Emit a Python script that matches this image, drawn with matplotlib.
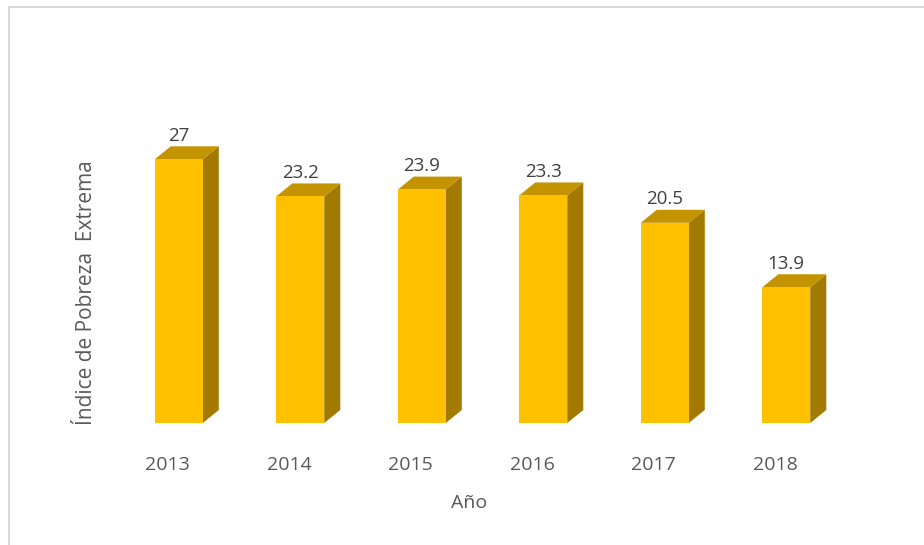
import matplotlib
matplotlib.use("Agg")
import matplotlib.pyplot as plt
from matplotlib.patches import Polygon
from matplotlib.lines import Line2D
from matplotlib.transforms import ScaledTranslation

years = ["2013", "2014", "2015", "2016", "2017", "2018"]
values = [27, 23.2, 23.9, 23.3, 20.5, 13.9]
value_labels = ["27", "23.2", "23.9", "23.3", "20.5", "13.9"]

plt.rcParams['font.family'] = ['Open Sans', 'DejaVu Sans']

W, H = 924, 545
fig = plt.figure(figsize=(W / 100, H / 100), dpi=100)
ax = fig.add_axes([118 / W, 122 / H, 729 / W, 293 / H])

front = '#FFC000'
side = '#A27A00'
top = '#C39300'
bw = 0.395
dx = 0.132   # depth offset in x units
dy = 1.33    # depth offset in y units

xs = list(range(len(years)))
ax.bar(xs, values, width=bw, color=front, zorder=3)
for x, v, lab in zip(xs, values, value_labels):
    x0, x1 = x - bw / 2, x + bw / 2
    ax.add_patch(Polygon([(x1, 0), (x1 + dx, dy), (x1 + dx, v + dy), (x1, v)],
                         closed=True, facecolor=side, edgecolor='none', zorder=2))
    ax.add_patch(Polygon([(x0, v), (x1, v), (x1 + dx, v + dy), (x0 + dx, v + dy)],
                         closed=True, facecolor=top, edgecolor='none', zorder=2))
    ax.annotate(lab, (x, v + dy), xytext=(0, 1), textcoords='offset points',
                ha='center', va='bottom', fontsize=13.5, color='#404040')

ax.set_xlim(-0.5, 5.5)
ax.set_ylim(0, 30)
ax.set_xticks(xs)
ax.set_xticklabels(years, fontsize=14, color='#595959')
ax.tick_params(axis='x', length=0, pad=24)
# year labels sit a bit left of the bar centres in the original
shift = ScaledTranslation(-11 / 100, 0, fig.dpi_scale_trans)
for t in ax.get_xticklabels():
    t.set_transform(t.get_transform() + shift)
ax.set_yticks([])
for s in ax.spines.values():
    s.set_visible(False)

fig.text(469 / W, 1 - 503 / H, "Año", ha='center', va='center',
         fontsize=14, color='#595959')
fig.text(87 / W, 1 - 293 / H, "Índice de Pobreza  Extrema", ha='center', va='center',
         rotation=90, fontsize=15, color='#595959')

# chart frame (only top and left edges visible in the crop)
fig.add_artist(Line2D([8.5 / W, 8.5 / W], [0, 1 - 7 / H], transform=fig.transFigure,
                      color='#D9D9D9', lw=1.5))
fig.add_artist(Line2D([8.5 / W, 1], [1 - 7 / H, 1 - 7 / H], transform=fig.transFigure,
                      color='#D9D9D9', lw=1.5))

fig.savefig("out.png", dpi=100)
